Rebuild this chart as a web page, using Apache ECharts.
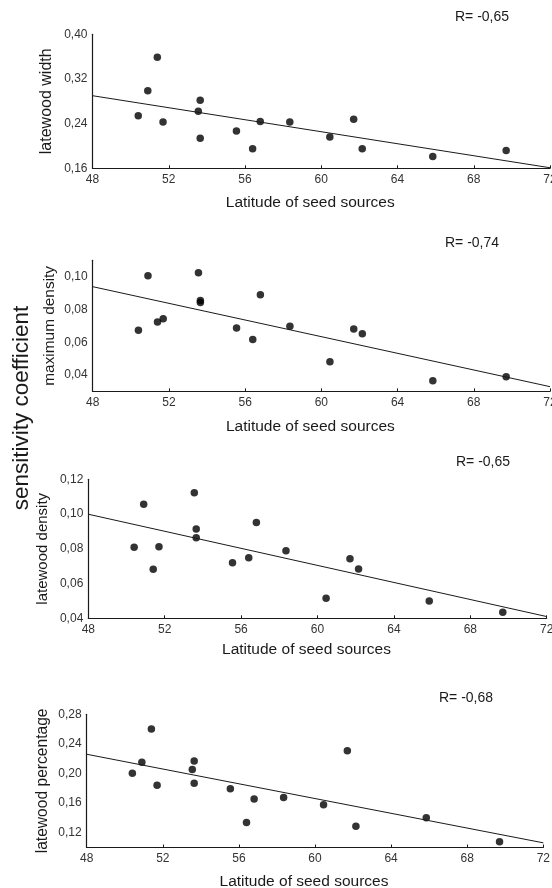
<!DOCTYPE html>
<html>
<head>
<meta charset="utf-8">
<script src="https://cdn.jsdelivr.net/npm/echarts@6/dist/echarts.min.js"></script>
<style>
html,body{margin:0;padding:0;background:#fff;}
#chart{width:552px;height:888px;}
</style>
</head>
<body>
<div id="chart"></div>
<script>
// Latitudes of the 16 seed sources (shared x values)
const latitude = [50.4, 50.9, 51.4, 51.7, 53.55, 53.65, 53.65, 55.55, 56.4, 56.8, 58.35, 60.45, 61.7, 62.15, 65.85, 69.7];

// Sensitivity coefficients per trait
const latewoodWidth = [0.254, 0.299, 0.359, 0.243, 0.262, 0.282, 0.214, 0.227, 0.195, 0.244, 0.243, 0.216, 0.248, 0.195, 0.181, 0.192];
const maximumDensity = [0.0673, 0.1006, 0.0723, 0.0744, 0.1024, 0.0855, 0.0843, 0.0687, 0.0616, 0.089, 0.0697, 0.0481, 0.0681, 0.0652, 0.0365, 0.039];
const latewoodDensity = [0.0809, 0.1056, 0.0682, 0.0812, 0.1123, 0.0914, 0.0864, 0.072, 0.0749, 0.0951, 0.0789, 0.0515, 0.0743, 0.0684, 0.050, 0.0435];
const latewoodPercentage = [0.2005, 0.2151, 0.2603, 0.184, 0.2055, 0.2169, 0.1867, 0.1794, 0.1337, 0.1657, 0.1675, 0.1579, 0.2306, 0.1287, 0.1401, 0.1077];

// Regression line end points (at latitude 48 and 72)
const fitX = [48, 72];
const fitWidth = [0.290, 0.161];
const fitMaxDensity = [0.0939, 0.0329];
const fitLwDensity = [0.0999, 0.041];
const fitLwPercentage = [0.226, 0.1063];

// Texts
const panelNames = ['latewood width', 'maximum density', 'latewood density', 'latewood percentage'];
const rLabels = ['R= -0,65', 'R= -0,74', 'R= -0,65', 'R= -0,68'];
const xName = 'Latitude of seed sources';
const sideTitle = 'sensitivity coefficient';

// y axis scales: [min, max, interval, label step in hundredths]
const yMins = [0.16, 0.03, 0.04, 0.10];
const yMaxs = [0.40, 0.11, 0.12, 0.28];
const yIntervals = [0.08, 0.01, 0.02, 0.02];
const yLabelSteps = [8, 2, 2, 4];

const values = [latewoodWidth, maximumDensity, latewoodDensity, latewoodPercentage];
const fits = [fitWidth, fitMaxDensity, fitLwDensity, fitLwPercentage];

const FONT = 'Liberation Sans, Arial, sans-serif';
const INK = '#1a1a1a';

const grids = [
  {left: 92.5, top: 34.3, width: 457.5, height: 134},
  {left: 92.7, top: 260.3, width: 457.3, height: 131.1},
  {left: 88.3, top: 479.3, width: 458.4, height: 139},
  {left: 86.7, top: 714.3, width: 456.6, height: 133.2}
].map(g => Object.assign(g, {containLabel: false, outerBoundsMode: 'none'}));
const xNameGaps = [26, 27, 23, 26];
const yNameGaps = [37.8, 35, 37.5, 35.6];
const yNameSizes = [16, 15.4, 15, 15.6];
const rPos = [[455, 18.3], [445, 244], [456, 463.3], [439, 698.7]];

const xAxes = [], yAxes = [], series = [], graphics = [];
for (let i = 0; i < 4; i++) {
  xAxes.push({
    type: 'value', gridIndex: i, min: 48, max: 72, interval: 4,
    name: xName, nameLocation: 'middle', nameGap: xNameGaps[i], nameMoveOverlap: false,
    nameTextStyle: {fontFamily: FONT, fontSize: 15.5, color: INK, padding: [0, 22, 0, 0]},
    axisLine: {lineStyle: {color: INK, width: 1.2}},
    axisTick: {show: true, inside: true, length: 3, lineStyle: {color: INK}},
    axisLabel: {fontFamily: FONT, fontSize: 12, color: '#333', margin: 5, showMaxLabel: true},
    splitLine: {show: false}
  });
  const step = yLabelSteps[i];
  yAxes.push({
    type: 'value', gridIndex: i, min: yMins[i], max: yMaxs[i], interval: yIntervals[i],
    name: panelNames[i], nameLocation: 'middle', nameGap: yNameGaps[i], nameMoveOverlap: false,
    nameTextStyle: {fontFamily: FONT, fontSize: yNameSizes[i], color: INK},
    axisLine: {show: true, lineStyle: {color: INK, width: 1.2}},
    axisTick: {show: false},
    axisLabel: {
      fontFamily: FONT, fontSize: 12, color: '#333', margin: 5,
      formatter: function (v) {
        const h = Math.round(v * 100);
        if (h % step !== 0) return '';
        return (h / 100).toFixed(2).replace('.', ',');
      }
    },
    splitLine: {show: false}
  });
  series.push({
    type: 'scatter', xAxisIndex: i, yAxisIndex: i,
    data: latitude.map((x, k) => [x, values[i][k]]),
    symbol: 'circle', symbolSize: 7.5,
    itemStyle: {color: '#000'},
    silent: true
  });
  series.push({
    type: 'line', xAxisIndex: i, yAxisIndex: i,
    data: fitX.map((x, k) => [x, fits[i][k]]),
    symbol: 'none', lineStyle: {color: INK, width: 1}, silent: true
  });
  graphics.push({
    type: 'text', left: rPos[i][0], top: rPos[i][1] - 8,
    style: {text: rLabels[i], font: '14px ' + FONT, fill: INK}
  });
}
graphics.push({
  type: 'text', x: 21.7, y: 408, rotation: Math.PI / 2,
  style: {text: sideTitle, font: '22.5px ' + FONT, fill: INK, align: 'center', verticalAlign: 'middle'}
});

const chart = echarts.init(document.getElementById('chart'), null, {renderer: 'canvas'});
chart.setOption({
  animation: false,
  backgroundColor: '#fff',
  grid: grids,
  xAxis: xAxes,
  yAxis: yAxes,
  series: series,
  graphic: graphics
});
</script>
</body>
</html>
